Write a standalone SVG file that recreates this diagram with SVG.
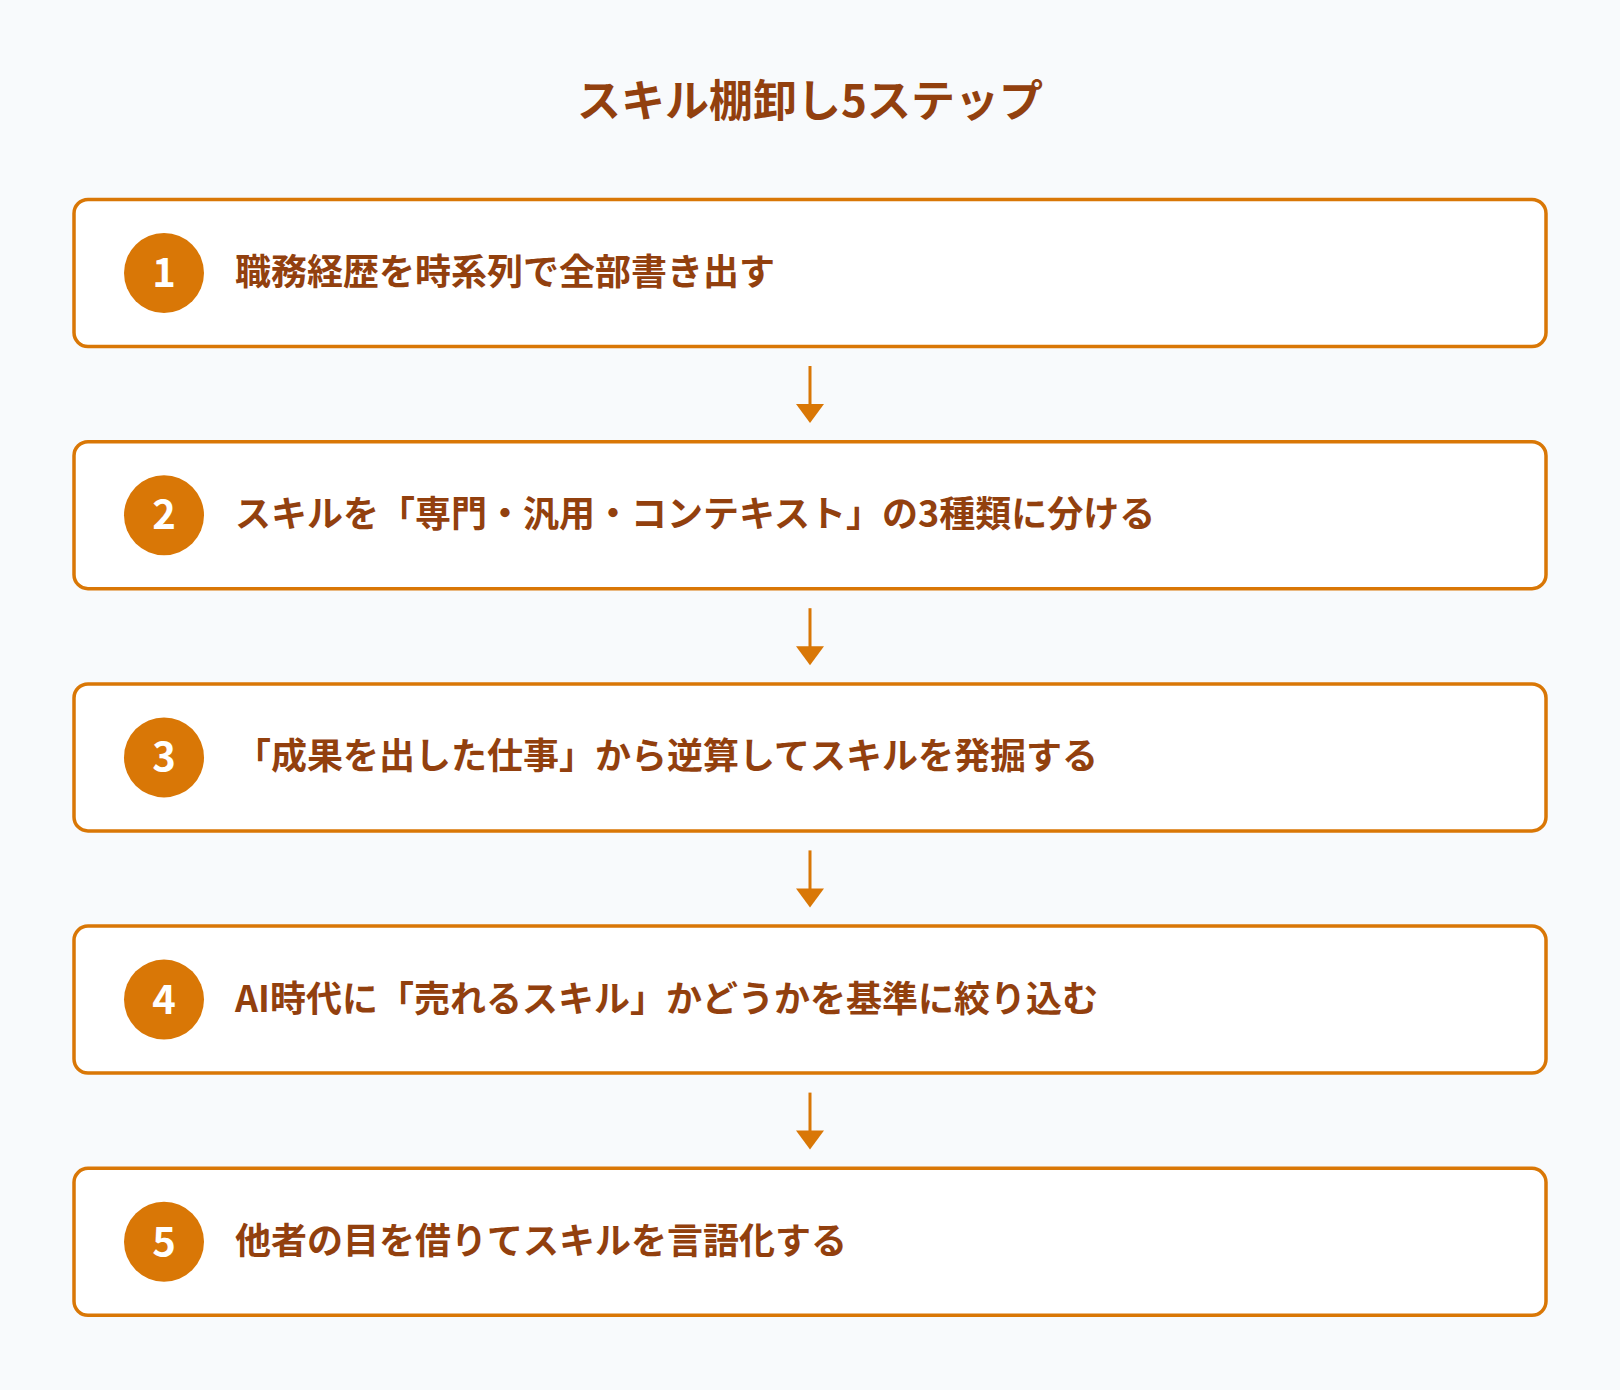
<svg xmlns="http://www.w3.org/2000/svg" width="1620" height="1390" viewBox="0 0 1620 1390">
<defs>
<style>
.bg{fill:#F8FAFC}
.box{fill:#FFFFFF;stroke:#D97706;stroke-width:3.5}
.badge{fill:#D97706}
.num{fill:#FFFFFF;font-family:"Noto Sans CJK JP","Noto Sans",sans-serif;font-weight:700;font-size:40px;text-anchor:middle;dominant-baseline:central}
.label{fill:#92400E;font-family:"Noto Sans CJK JP","Noto Sans",sans-serif;font-weight:700;font-size:36px;dominant-baseline:central}
.title{fill:#92400E;font-family:"Noto Sans CJK JP","Noto Sans",sans-serif;font-weight:700;font-size:44px;text-anchor:middle;dominant-baseline:central}
.conn{stroke:#D97706;stroke-width:3;fill:none}
.head{fill:#D97706}
</style>
</defs>
<rect class="bg" x="0" y="0" width="1620" height="1390"/>
<text class="title" x="810" y="98">スキル棚卸し5ステップ</text>
<g id="step1">
<rect class="box" x="74" y="199.5" width="1472" height="147" rx="14"/>
<circle class="badge" cx="164" cy="273" r="40"/>
<text class="num" x="164" y="270">1</text>
<text class="label" x="235" y="269">職務経歴を時系列で全部書き出す</text>
</g>
<g id="step2">
<rect class="box" x="74" y="441.7" width="1472" height="147" rx="14"/>
<circle class="badge" cx="164" cy="515.2" r="40"/>
<text class="num" x="164" y="512.2">2</text>
<text class="label" x="235" y="511.2">スキルを「専門・汎用・コンテキスト」の3種類に分ける</text>
</g>
<g id="step3">
<rect class="box" x="74" y="683.9" width="1472" height="147" rx="14"/>
<circle class="badge" cx="164" cy="757.4" r="40"/>
<text class="num" x="164" y="754.4">3</text>
<text class="label" x="235" y="753.4">「成果を出した仕事」から逆算してスキルを発掘する</text>
</g>
<g id="step4">
<rect class="box" x="74" y="926.1" width="1472" height="147" rx="14"/>
<circle class="badge" cx="164" cy="999.6" r="40"/>
<text class="num" x="164" y="996.6">4</text>
<text class="label" x="235" y="995.6">AI時代に「売れるスキル」かどうかを基準に絞り込む</text>
</g>
<g id="step5">
<rect class="box" x="74" y="1168.3" width="1472" height="147" rx="14"/>
<circle class="badge" cx="164" cy="1241.8" r="40"/>
<text class="num" x="164" y="1238.8">5</text>
<text class="label" x="235" y="1237.8">他者の目を借りてスキルを言語化する</text>
</g>
<g id="connectors">
<line class="conn" x1="810" y1="366" x2="810" y2="406"/>
<polygon class="head" points="796,404 824,404 810,423"/>
<line class="conn" x1="810" y1="608.2" x2="810" y2="648.2"/>
<polygon class="head" points="796,646.2 824,646.2 810,665.2"/>
<line class="conn" x1="810" y1="850.4" x2="810" y2="890.4"/>
<polygon class="head" points="796,888.4 824,888.4 810,907.4"/>
<line class="conn" x1="810" y1="1092.6" x2="810" y2="1132.6"/>
<polygon class="head" points="796,1130.6 824,1130.6 810,1149.6"/>
</g>
</svg>
